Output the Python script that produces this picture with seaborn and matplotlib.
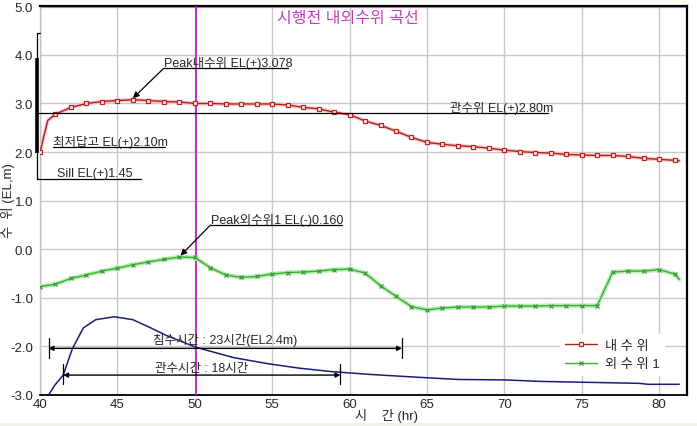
import matplotlib
matplotlib.use("Agg")
import matplotlib.pyplot as plt
import seaborn as sns
import pandas as pd
from matplotlib import font_manager
from matplotlib.lines import Line2D
from matplotlib.patches import Rectangle
from matplotlib.ticker import MultipleLocator, FixedLocator

# ---------------- data ----------------
inner_x = [40, 40.5, 41, 42, 43, 44, 45, 46, 47, 48, 49, 50, 51, 52, 53, 54, 55,
           56, 57, 58, 59, 60, 61, 62, 63, 64, 65, 66, 67, 68, 69, 70, 71, 72,
           73, 74, 75, 76, 77, 78, 79, 80, 81, 81.3]
inner_y = [2.00, 2.65, 2.78, 2.92, 3.00, 3.04, 3.06, 3.078, 3.06, 3.04, 3.03, 3.00,
           3.00, 2.99, 2.99, 2.99, 2.99, 2.97, 2.92, 2.89, 2.82, 2.77, 2.64, 2.55,
           2.43, 2.30, 2.20, 2.16, 2.13, 2.11, 2.08, 2.04, 2.01, 1.99, 1.98, 1.95,
           1.94, 1.93, 1.93, 1.91, 1.87, 1.85, 1.83, 1.82]

outer_x = [40, 41, 42, 43, 44, 45, 46, 47, 48, 49, 50, 51, 52, 53, 54, 55, 56, 57,
           58, 59, 60, 61, 62, 63, 64, 65, 66, 67, 68, 69, 70, 71, 72, 73, 74, 75,
           76, 77, 78, 79, 80, 81, 81.3]
outer_y = [-0.77, -0.72, -0.60, -0.53, -0.45, -0.39, -0.32, -0.26, -0.21, -0.16,
           -0.17, -0.38, -0.53, -0.58, -0.56, -0.51, -0.48, -0.47, -0.45, -0.42,
           -0.41, -0.49, -0.75, -0.97, -1.18, -1.25, -1.21, -1.19, -1.19, -1.19,
           -1.17, -1.17, -1.17, -1.16, -1.16, -1.16, -1.16, -0.47, -0.45, -0.45,
           -0.42, -0.51, -0.62]

flow_x = [40.55, 40.95, 41.5, 42.1, 42.8, 43.6, 44.8, 46.0, 47.1, 48.2, 50.1, 52.5,
          54.8, 56.8, 58.9, 61.5, 64.7, 67.0, 70.1, 72.3, 75.5, 78.7, 79.3, 81.3]
flow_y = [-3.00, -2.80, -2.59, -2.04, -1.62, -1.45, -1.39, -1.45, -1.61, -1.78,
          -2.02, -2.23, -2.36, -2.45, -2.52, -2.58, -2.64, -2.68, -2.69, -2.72,
          -2.74, -2.76, -2.78, -2.78]

x_major = [40, 45, 50, 55, 60, 65, 70, 75, 80]
y_major = [-3.0, -2.0, -1.0, 0.0, 1.0, 2.0, 3.0, 4.0, 5.0]
series_labels = ["내 수 위", "외 수 위 1"]
title = "시행전 내외수위 곡선"
xlabel = "시    간 (hr)"
ylabel = "수  위 (EL,m)"

peak_in = (46.0, 3.078)
peak_out = (49.0, -0.16)
sill_level = 1.45
dike_level = 2.10
gate_level = 2.80
flood_span = (40.55, 63.39)
gate_span = (41.49, 59.41)
marker_line_x = 50.1

# ---------------- style ----------------
sns.set_style("white")
names = {f.name for f in font_manager.fontManager.ttflist}
latin = "Liberation Sans" if "Liberation Sans" in names else "DejaVu Sans"
FAM = [latin, "Noto Sans CJK KR", "DejaVu Sans"]
plt.rcParams["font.family"] = FAM
plt.rcParams["axes.unicode_minus"] = False
FS = 9

W, H = 697, 427
fig = plt.figure(figsize=(W / 100, H / 100), dpi=100)
fig.patch.set_facecolor("white")
fig.patches.append(Rectangle((0, 0), 1, 3 / H, transform=fig.transFigure,
                             facecolor="#f0efe8", edgecolor="none", zorder=0))
ax = fig.add_axes([40 / W, 1 - 396 / H, (687 - 40) / W, (396 - 7.3) / H])
ax.set_xlim(40, 81.8)
ax.set_ylim(-3, 5)

ax.xaxis.set_major_locator(FixedLocator(x_major))
ax.xaxis.set_minor_locator(MultipleLocator(1))
ax.yaxis.set_major_locator(FixedLocator(y_major))
ax.set_xticklabels([str(v) for v in x_major])
ax.set_yticklabels([f"{v:.1f}" for v in y_major])
ax.tick_params(axis="x", which="both", direction="in", length=4, width=0.8,
               color="black", pad=2.5, labelsize=FS + 0.5)
ax.tick_params(axis="y", which="both", direction="in", length=3, width=0.8,
               color="#808080", pad=5, labelsize=FS + 0.5)
ax.grid(True, which="major", color="#c8c8c8", lw=1)
ax.set_axisbelow(True)
for s in ["top", "right"]:
    ax.spines[s].set_color("black")
    ax.spines[s].set_linewidth(1.6)
ax.spines["bottom"].set_color("black")
ax.spines["bottom"].set_linewidth(1.3)
ax.spines["left"].set_color("#c0c0c0")
ax.spines["left"].set_linewidth(1)

# magenta reference lines
ax.axhline(5.0, color="#e070e0", lw=3.0, zorder=1)
ax.axvline(marker_line_x, color="#c020c8", lw=1.3, zorder=3)

# ---------------- series ----------------
df_in = pd.DataFrame({"t": inner_x, "h": inner_y})
df_out = pd.DataFrame({"t": outer_x, "h": outer_y})
df_flow = pd.DataFrame({"t": flow_x, "h": flow_y})

mk_in = [i for i, v in enumerate(inner_x) if float(v).is_integer()]
mk_out = [i for i, v in enumerate(outer_x) if float(v).is_integer()]

sns.lineplot(data=df_flow, x="t", y="h", ax=ax, color="#1c1c78", lw=1.1,
             zorder=4, sort=False)
sns.lineplot(data=df_in, x="t", y="h", ax=ax, color="#f6caca", lw=2.8,
             zorder=4, sort=False)
sns.lineplot(data=df_in, x="t", y="h", ax=ax, color="#b02020", lw=1.0,
             marker="s", markersize=3.2, markerfacecolor="#fff0f0",
             markeredgecolor="#c02020", markeredgewidth=0.9,
             markevery=mk_in, zorder=5, sort=False)
sns.lineplot(data=df_out, x="t", y="h", ax=ax, color="#b8f0b0", lw=3.2,
             zorder=4, sort=False)
sns.lineplot(data=df_out, x="t", y="h", ax=ax, color="#40a840", lw=1.0,
             marker="x", markersize=3.0, markeredgecolor="#3a9a3a",
             markeredgewidth=0.9, markevery=mk_out, zorder=5, sort=False)

ax.set_xlabel(xlabel, fontsize=FS + 0.5)
ax.set_ylabel(ylabel, fontsize=FS + 0.5)
ax.xaxis.set_label_coords((387 - 40) / 647, (396 - 409.5) / 388.7)
ax.yaxis.set_label_coords((15 - 40) / 647, (396 - 201) / 388.7)

ax.text((348 - 40) / 647, (396 - 18.5) / 388.7, title, transform=ax.transAxes,
        ha="center", va="center", fontsize=11.5, color="#c040c0", zorder=6)

# ---------------- annotations ----------------
K = dict(color="black", lw=0.9, zorder=6, clip_on=False)

# left marker bar
ax.plot([39.8, 39.8], [4.45, sill_level], **K)
ax.plot([39.8, 39.97], [4.45, 4.45], **K)
ax.plot([39.8, 39.8], [3.93, 1.98], color="black", lw=2.6, zorder=6,
        clip_on=False, solid_capstyle="butt")

# 관수위
ax.plot([39.8, 72.83], [gate_level, gate_level], **K)
ax.text(66.47, gate_level + 0.05, f"관수위 EL(+){gate_level:.2f}m", fontsize=FS,
        ha="left", va="baseline", zorder=7)
# 최저답고
ax.plot([40.85, 48.05], [dike_level, dike_level], **K)
ax.text(40.85, dike_level + 0.05, f"최저답고 EL(+){dike_level:.2f}m", fontsize=FS,
        ha="left", va="baseline", zorder=7)
# Sill
ax.plot([39.8, 46.5], [sill_level, sill_level], **K)
ax.text(41.13, sill_level + 0.05, f"Sill EL(+){sill_level:.2f}", fontsize=FS,
        ha="left", va="baseline", zorder=7)

# peak inner
ax.plot([47.98, 56.0], [3.72, 3.72], **K)
ax.text(47.98, 3.77, f"Peak내수위 EL(+){peak_in[1]:.3f}", fontsize=FS,
        ha="left", va="baseline", zorder=7)
ax.annotate("", xy=(peak_in[0], peak_in[1] + 0.03), xytext=(47.98, 3.72),
            arrowprops=dict(arrowstyle="-|>", color="black", lw=0.9,
                            mutation_scale=9, shrinkA=0, shrinkB=0), zorder=7)
# peak outer
ax.plot([51.02, 59.53], [0.50, 0.50], **K)
ax.text(51.02, 0.55, f"Peak외수위1 EL(-){abs(peak_out[1]):.3f}", fontsize=FS,
        ha="left", va="baseline", zorder=7)
ax.annotate("", xy=(peak_out[0] + 0.08, peak_out[1] + 0.03), xytext=(51.02, 0.50),
            arrowprops=dict(arrowstyle="-|>", color="black", lw=0.9,
                            mutation_scale=9, shrinkA=0, shrinkB=0), zorder=7)


def dim_line(x0, x1, y, label, ty):
    ax.annotate("", xy=(x0, y), xytext=(x1, y),
                arrowprops=dict(arrowstyle="<|-|>", color="black", lw=1.0,
                                mutation_scale=7, shrinkA=0, shrinkB=0), zorder=7)
    for xx in (x0, x1):
        ax.plot([xx, xx], [y + 0.22, y - 0.19], color="black", lw=0.9, zorder=7)
    ax.text((x0 + x1) / 2, ty, label, fontsize=FS, ha="center", va="baseline",
            zorder=7)


dim_line(flood_span[0], flood_span[1], -2.04, "침수시간 : 23시간(EL2.4m)", -1.93)
dim_line(gate_span[0], gate_span[1], -2.59, "관수시간 : 18시간", -2.50)

# ---------------- legend ----------------
h_red = Line2D([], [], color="#b02020", lw=1.0, marker="s", markersize=3.2,
               markerfacecolor="#fff0f0", markeredgecolor="#c02020",
               markeredgewidth=0.9)
h_green = Line2D([], [], color="#40a840", lw=1.0, marker="x", markersize=3.0,
                 markeredgecolor="#3a9a3a", markeredgewidth=0.9)
leg = ax.legend(handles=[h_red, h_green], labels=series_labels, loc="upper left",
                bbox_to_anchor=(560 / W, 1 - 335 / H), bbox_transform=fig.transFigure,
                frameon=True, fancybox=False, borderaxespad=0, handlelength=2.4,
                handletextpad=0.6, labelspacing=0.5, fontsize=FS + 0.5,
                borderpad=0.4, framealpha=1)
leg.get_frame().set_edgecolor("none")
leg.get_frame().set_facecolor("white")
leg.set_zorder(8)

fig.savefig("out.png", dpi=100)
